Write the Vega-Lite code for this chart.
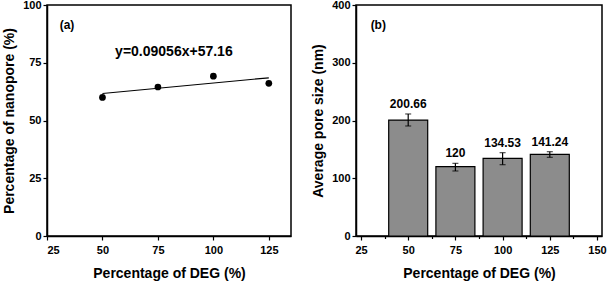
{
  "$schema": "https://vega.github.io/schema/vega-lite/v6.json",
  "padding": {"left": 1, "top": -2, "right": 8, "bottom": 0},
  "spacing": 18,
  "config": {
    "font": "Liberation Sans",
    "view": {"stroke": "black", "strokeWidth": 1.5},
    "axis": {
      "domainColor": "black", "domainWidth": 1.5,
      "tickColor": "black", "tickWidth": 1.2,
      "labelFont": "Liberation Sans", "labelFontSize": 11, "labelFontWeight": "bold", "labelColor": "black",
      "titleFont": "Liberation Sans", "titleFontSize": 14, "titleFontWeight": "bold", "titleColor": "black",
      "grid": false
    },
    "axisX": {"labelPadding": 4, "titlePadding": 11},
    "axisY": {"labelPadding": 2, "titlePadding": 6},
    "text": {"font": "Liberation Sans", "fontWeight": "bold", "color": "black"}
  },
  "hconcat": [
    {
      "width": 244, "height": 231,
      "layer": [
        {
          "data": {"values": [{"deg": 50, "pct": 61.69}, {"deg": 125, "pct": 68.48}]},
          "mark": {"type": "line", "color": "black", "strokeWidth": 1.2},
          "encoding": {
            "x": {"field": "deg", "type": "quantitative", "scale": {"domain": [25, 135], "nice": false, "zero": false},
              "axis": {"title": "Percentage of DEG (%)", "values": [25, 37.5, 50, 62.5, 75, 87.5, 100, 112.5, 125],
                "labelExpr": "datum.value % 25 == 0 ? datum.label : ''",
                "tickSize": {"condition": {"test": "datum.value % 25 != 0", "value": 2.5}, "value": 4}}},
            "y": {"field": "pct", "type": "quantitative", "scale": {"domain": [0, 100], "nice": false},
              "axis": {"title": "Percentage of nanopore (%)", "values": [0, 12.5, 25, 37.5, 50, 62.5, 75, 87.5, 100],
                "labelExpr": "datum.value % 25 == 0 ? datum.label : ''",
                "tickSize": {"condition": {"test": "datum.value % 25 != 0", "value": 2.5}, "value": 4}}}
          }
        },
        {
          "data": {"values": [{"deg": 50, "pct": 60.0}, {"deg": 75, "pct": 64.5}, {"deg": 100, "pct": 69.2}, {"deg": 125, "pct": 66.1}]},
          "mark": {"type": "circle", "color": "black", "size": 45, "opacity": 1},
          "encoding": {
            "x": {"field": "deg", "type": "quantitative"},
            "y": {"field": "pct", "type": "quantitative"}
          }
        },
        {
          "data": {"values": [{"deg": 30.7, "pct": 91.3, "label": "(a)"}]},
          "mark": {"type": "text", "align": "left", "baseline": "middle", "fontSize": 12},
          "encoding": {
            "x": {"field": "deg", "type": "quantitative"},
            "y": {"field": "pct", "type": "quantitative"},
            "text": {"field": "label"}
          }
        },
        {
          "data": {"values": [{"deg": 82.2, "pct": 79.8, "label": "y=0.09056x+57.16"}]},
          "mark": {"type": "text", "align": "center", "baseline": "middle", "fontSize": 14},
          "encoding": {
            "x": {"field": "deg", "type": "quantitative"},
            "y": {"field": "pct", "type": "quantitative"},
            "text": {"field": "label"}
          }
        }
      ]
    },
    {
      "width": 246, "height": 231,
      "data": {"values": [
        {"deg": 50, "size": 200.66, "lo": 190.5, "hi": 211.3, "label": "200.66"},
        {"deg": 75, "size": 120, "lo": 112.6, "hi": 125.8, "label": "120"},
        {"deg": 100, "size": 134.53, "lo": 123.5, "hi": 144.3, "label": "134.53"},
        {"deg": 125, "size": 141.24, "lo": 136.2, "hi": 146.0, "label": "141.24"}
      ]},
      "encoding": {
        "x": {"field": "deg", "type": "quantitative", "scale": {"domain": [25, 150], "nice": false, "zero": false},
          "axis": {"title": "Percentage of DEG (%)", "values": [25, 37.5, 50, 62.5, 75, 87.5, 100, 112.5, 125, 137.5, 150],
            "labelExpr": "datum.value % 25 == 0 ? datum.label : ''",
            "tickSize": {"condition": {"test": "datum.value % 25 != 0", "value": 2.5}, "value": 4}}}
      },
      "layer": [
        {
          "mark": {"type": "bar", "size": 39, "fill": "#8c8c8c", "stroke": "black", "strokeWidth": 1.2},
          "encoding": {
            "y": {"field": "size", "type": "quantitative", "scale": {"domain": [0, 400], "nice": false},
              "axis": {"title": "Average pore size (nm)", "values": [0, 50, 100, 150, 200, 250, 300, 350, 400],
                "labelExpr": "datum.value % 100 == 0 ? datum.label : ''",
                "tickSize": {"condition": {"test": "datum.value % 100 != 0", "value": 2.5}, "value": 4}}}
          }
        },
        {
          "mark": {"type": "rule", "color": "black", "strokeWidth": 1.2},
          "encoding": {
            "y": {"field": "lo", "type": "quantitative"},
            "y2": {"field": "hi"}
          }
        },
        {
          "mark": {"type": "tick", "orient": "horizontal", "color": "black", "size": 6, "thickness": 1.2},
          "encoding": {"y": {"field": "lo", "type": "quantitative"}}
        },
        {
          "mark": {"type": "tick", "orient": "horizontal", "color": "black", "size": 6, "thickness": 1.2},
          "encoding": {"y": {"field": "hi", "type": "quantitative"}}
        },
        {
          "mark": {"type": "text", "baseline": "bottom", "dy": -3, "fontSize": 12},
          "encoding": {
            "y": {"field": "hi", "type": "quantitative"},
            "text": {"field": "label"}
          }
        },
        {
          "data": {"values": [{"deg": 30.1, "size": 365, "label": "(b)"}]},
          "mark": {"type": "text", "align": "left", "baseline": "middle", "fontSize": 12},
          "encoding": {
            "y": {"field": "size", "type": "quantitative"},
            "text": {"field": "label"}
          }
        }
      ]
    }
  ]
}
